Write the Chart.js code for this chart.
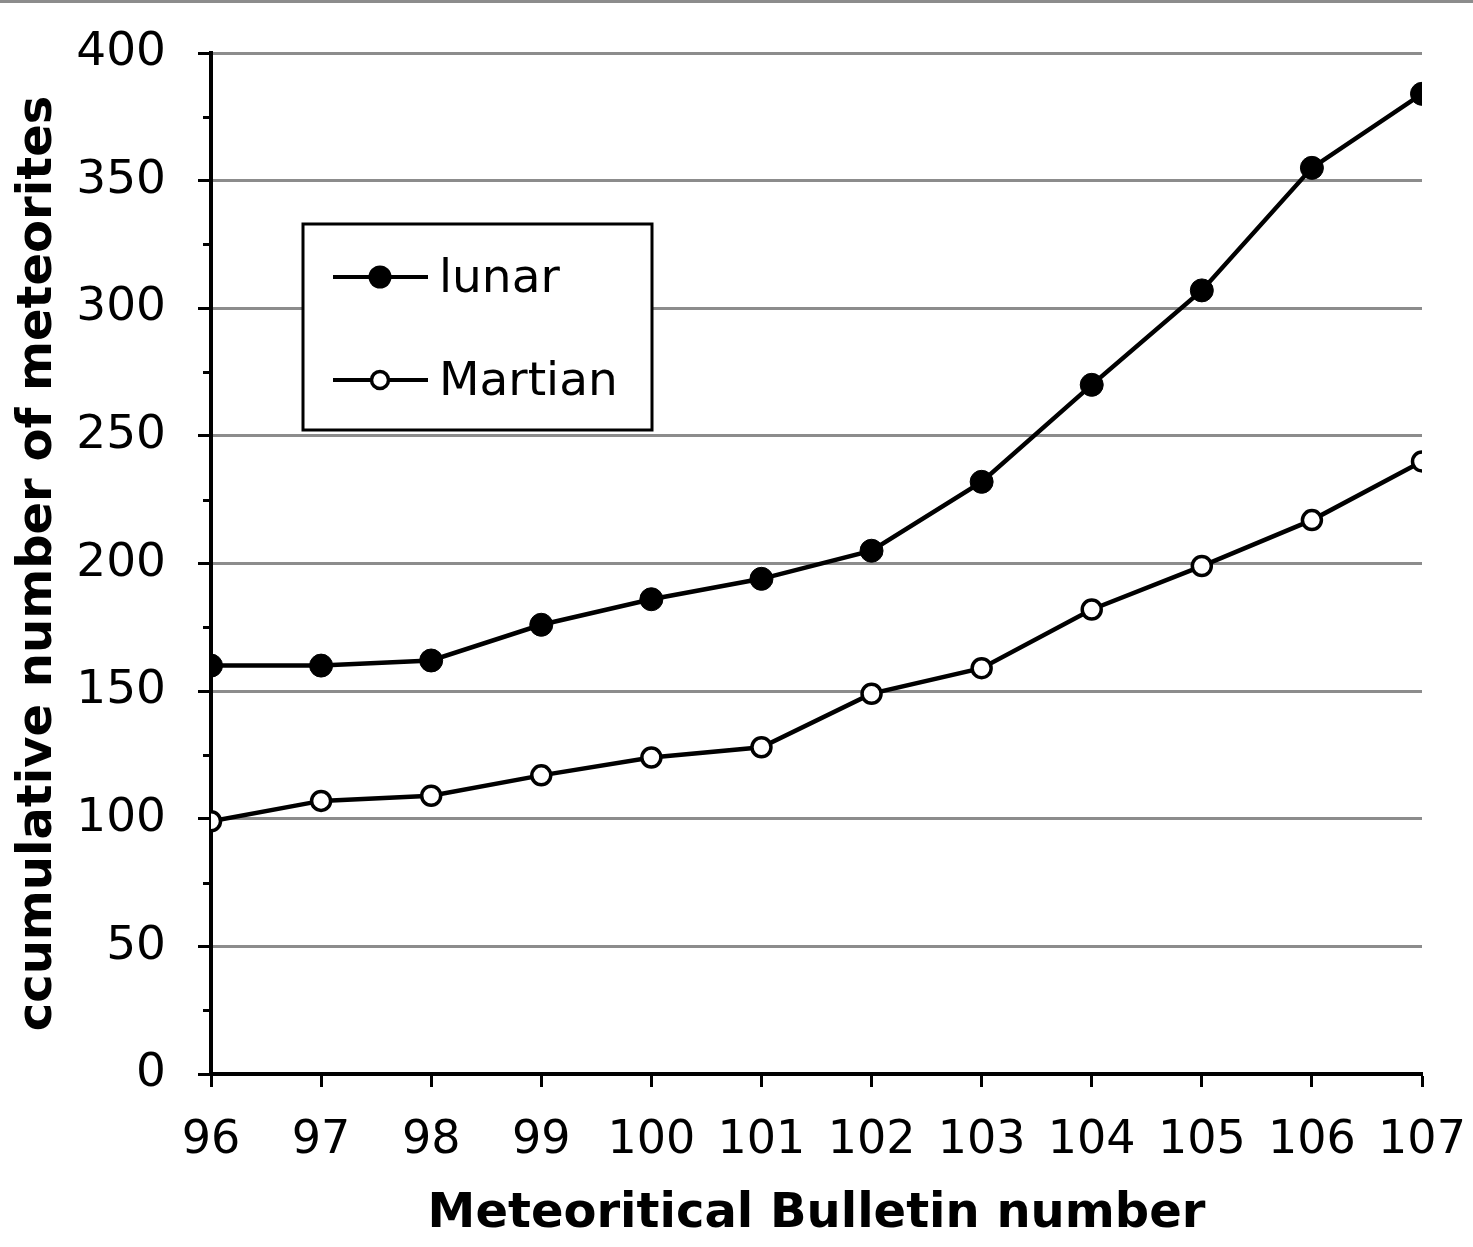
<!DOCTYPE html>
<html>
<head>
<meta charset="utf-8">
<script src="https://cdn.jsdelivr.net/npm/chart.js@4.4.0/dist/chart.umd.min.js"></script>
<style>
  html, body { margin: 0; padding: 0; background: #fff; }
  #wrap { position: relative; width: 1473px; height: 1247px; }
</style>
</head>
<body>
<div id="wrap"><canvas id="c" width="1473" height="1247"></canvas></div>
<script>
// ---- data ----
const bulletinNumbers = [96, 97, 98, 99, 100, 101, 102, 103, 104, 105, 106, 107];
const lunarCounts   = [160, 160, 162, 176, 186, 194, 205, 232, 270, 307, 355, 384];
const martianCounts = [99, 107, 109, 117, 124, 128, 149, 159, 182, 199, 217, 240];
const seriesNames = ['lunar', 'Martian'];
const xTitle = 'Meteoritical Bulletin number';
const yTitle = 'ccumulative number of meteorites';
const yTickValues = [0, 50, 100, 150, 200, 250, 300, 350, 400];
const yMinorTickValues = [25, 75, 125, 175, 225, 275, 325, 375];

const GRID = '#8c8c8c';
const FONT = '"DejaVu Sans", Verdana, sans-serif';

const toXY = (xs, ys) => xs.map((x, i) => ({ x: x, y: ys[i] }));

const extrasPlugin = {
  id: 'extras',
  beforeDraw(chart) {
    const ctx = chart.ctx;
    ctx.save();
    ctx.fillStyle = '#fff';
    ctx.fillRect(0, 0, chart.width, chart.height);
    ctx.restore();
  },
  afterDraw(chart) {
    const ctx = chart.ctx;
    const ys = chart.scales.y;
    const area = chart.chartArea;
    ctx.save();
    // top gray rule
    ctx.fillStyle = GRID;
    ctx.fillRect(0, 0, chart.width, 3);
    // minor ticks on y axis
    ctx.strokeStyle = '#000';
    ctx.lineWidth = 3;
    yMinorTickValues.forEach(v => {
      const py = Math.round(ys.getPixelForValue(v)) + 0.5;
      ctx.beginPath();
      ctx.moveTo(area.left - 8, py);
      ctx.lineTo(area.left, py);
      ctx.stroke();
    });
    // legend box
    const bx = area.left + 92, by = area.top + 171, bw = 349, bh = 206;
    ctx.fillStyle = '#fff';
    ctx.fillRect(bx, by, bw, bh);
    ctx.lineWidth = 3;
    ctx.strokeStyle = '#000';
    ctx.strokeRect(bx, by, bw, bh);
    chart.data.datasets.forEach((ds, i) => {
      const cy = by + 53 + i * 103;
      ctx.lineWidth = 4;
      ctx.strokeStyle = '#000';
      ctx.beginPath();
      ctx.moveTo(bx + 30, cy);
      ctx.lineTo(bx + 125, cy);
      ctx.stroke();
      ctx.beginPath();
      if (i === 0) {
        ctx.arc(bx + 77, cy, 11.5, 0, Math.PI * 2);
        ctx.fillStyle = '#000';
        ctx.fill();
      } else {
        ctx.arc(bx + 77, cy, 8.5, 0, Math.PI * 2);
        ctx.fillStyle = '#fff';
        ctx.fill();
        ctx.lineWidth = 3.5;
        ctx.stroke();
      }
      ctx.fillStyle = '#000';
      ctx.font = '47px ' + FONT;
      ctx.textAlign = 'left';
      ctx.textBaseline = 'alphabetic';
      ctx.fillText(ds.label, bx + 136, cy + 15);
    });
    ctx.restore();
  }
};

new Chart(document.getElementById('c'), {
  type: 'line',
  data: {
    datasets: [
      {
        label: seriesNames[0],
        data: toXY(bulletinNumbers, lunarCounts),
        borderColor: '#000',
        borderWidth: 4.5,
        backgroundColor: '#000',
        pointBackgroundColor: '#000',
        pointBorderColor: '#000',
        pointBorderWidth: 1,
        pointRadius: 11.5,
        tension: 0,
        fill: false
      },
      {
        label: seriesNames[1],
        data: toXY(bulletinNumbers, martianCounts),
        borderColor: '#000',
        borderWidth: 4.5,
        backgroundColor: '#fff',
        pointBackgroundColor: '#fff',
        pointBorderColor: '#000',
        pointBorderWidth: 3.5,
        pointRadius: 9.5,
        tension: 0,
        fill: false
      }
    ]
  },
  plugins: [extrasPlugin],
  options: {
    responsive: false,
    animation: false,
    devicePixelRatio: 1,
    layout: { padding: { top: 53, right: 51, left: 0, bottom: 0 } },
    plugins: {
      legend: { display: false },
      tooltip: { enabled: false },
      title: { display: false }
    },
    scales: {
      x: {
        type: 'linear',
        min: bulletinNumbers[0],
        max: bulletinNumbers[bulletinNumbers.length - 1],
        afterBuildTicks: s => { s.ticks = bulletinNumbers.map(v => ({ value: v })); },
        afterFit: s => { s.height = 173; s.paddingLeft = 0; s.paddingRight = 0; },
        ticks: {
          color: '#000',
          font: { family: FONT, size: 46 },
          padding: 26,
          maxRotation: 0,
          autoSkip: false,
          callback: v => String(v)
        },
        grid: {
          drawOnChartArea: false,
          drawTicks: true,
          tickLength: 13,
          tickColor: '#000',
          tickWidth: 3
        },
        border: { display: true, color: '#000', width: 4 },
        title: {
          display: true,
          text: xTitle,
          color: '#000',
          font: { family: FONT, size: 48, weight: 'bold', lineHeight: 1.2 },
          padding: { top: 0, bottom: 4 }
        }
      },
      y: {
        type: 'linear',
        min: yTickValues[0],
        max: yTickValues[yTickValues.length - 1],
        afterBuildTicks: s => { s.ticks = yTickValues.map(v => ({ value: v })); },
        afterFit: s => { s.width = 211; s.paddingTop = 0; s.paddingBottom = 0; },
        ticks: {
          color: '#000',
          font: { family: FONT, size: 47 },
          padding: 32,
          callback: v => String(v)
        },
        grid: {
          color: GRID,
          lineWidth: 3,
          drawTicks: true,
          tickLength: 13,
          tickColor: '#000',
          tickWidth: 3
        },
        border: { display: true, color: '#000', width: 4 },
        title: {
          display: true,
          text: yTitle,
          color: '#000',
          font: { family: FONT, size: 48, weight: 'bold', lineHeight: 1.2 },
          padding: { top: 10, bottom: 0 }
        }
      }
    }
  }
});
</script>
</body>
</html>
